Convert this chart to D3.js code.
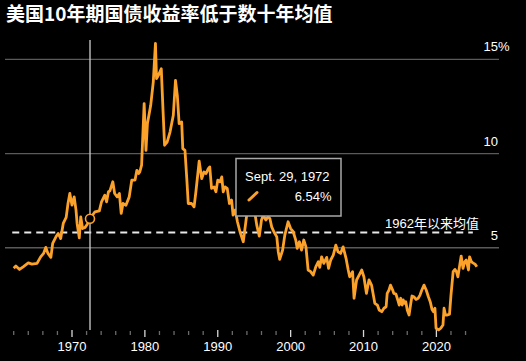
<!DOCTYPE html>
<html><head><meta charset="utf-8">
<script src="https://cdn.jsdelivr.net/npm/d3@7"></script>
<style>
html,body{margin:0;padding:0;background:#000;}
svg{display:block;}
text{font-family:"Liberation Sans",Arial,"Noto Sans CJK SC",sans-serif;}
</style></head>
<body>
<script>
const title = "美国10年期国债收益率低于数十年均值";
const meanLabel = "1962年以来均值";
const meanValue = 5.81;
const markerYear = 1972.47;
const markerValue = 6.54;
const markerDate = "Sept. 29, 1972";
const markerText = "6.54%";
const yTicks = [5, 10, 15];
const xMajorTicks = [1970, 1980, 1990, 2000, 2010, 2020];
const xMinorTicks = [1962,1964,1966,1968,1972,1974,1976,1978,1982,1984,1986,1988,1992,1994,1996,1998,2002,2004,2006,2008,2012,2014,2016,2018,2022,2024];

const years = [1962.0,1962.3,1962.8,1963.3,1964.0,1964.5,1965.2,1965.7,1966.1,1966.4,1966.7,1967.1,1967.35,1967.8,1968.1,1968.45,1968.8,1969.2,1969.45,1969.7,1970.0,1970.3,1970.55,1970.7,1971.0,1971.2,1971.45,1971.8,1972.1,1972.47,1973.15,1973.75,1974.05,1974.5,1974.75,1975.0,1975.2,1975.6,1975.85,1976.2,1976.5,1976.75,1977.0,1977.4,1977.85,1978.2,1978.65,1978.9,1979.15,1979.3,1979.55,1979.9,1980.15,1980.35,1980.8,1981.15,1981.45,1981.6,1981.85,1982.05,1982.25,1982.5,1982.7,1983.05,1983.45,1983.9,1984.2,1984.45,1984.7,1985.05,1985.2,1985.5,1985.75,1985.95,1986.4,1986.75,1987.0,1987.45,1987.8,1988.1,1988.4,1988.7,1988.9,1989.15,1989.5,1989.75,1990.0,1990.3,1990.55,1990.75,1991.0,1991.3,1991.6,1991.9,1992.1,1992.4,1992.7,1993.05,1993.5,1993.85,1994.2,1994.5,1994.7,1994.9,1995.1,1995.35,1995.7,1996.0,1996.25,1996.6,1996.9,1997.15,1997.4,1997.7,1998.1,1998.3,1998.5,1998.9,1999.2,1999.65,2000.0,2000.35,2000.7,2000.9,2001.2,2001.5,2001.8,2002.1,2002.4,2002.75,2003.1,2003.45,2003.8,2004.0,2004.25,2004.55,2004.95,2005.2,2005.5,2005.85,2006.2,2006.5,2006.85,2007.2,2007.6,2007.9,2008.1,2008.5,2008.7,2009.05,2009.4,2009.75,2010.05,2010.4,2010.75,2011.1,2011.55,2011.9,2012.15,2012.5,2012.8,2013.1,2013.25,2013.5,2013.7,2014.0,2014.15,2014.45,2014.7,2014.9,2015.1,2015.3,2015.45,2015.65,2015.8,2016.0,2016.25,2016.45,2016.65,2016.9,2017.2,2017.5,2017.75,2018.0,2018.3,2018.6,2018.9,2019.15,2019.4,2019.6,2019.8,2019.95,2020.3,2020.6,2020.9,2021.05,2021.25,2021.5,2021.8,2022.0,2022.3,2022.55,2022.75,2022.95,2023.2,2023.4,2023.65,2023.9,2024.1,2024.4,2024.55,2024.8,2025.0,2025.3,2025.55];
const yields = [3.91,4.03,3.85,3.99,4.20,4.13,4.17,4.52,4.70,5.02,4.70,4.49,5.23,5.58,5.76,5.49,6.29,6.61,7.35,7.88,7.26,7.70,7.00,6.29,5.53,6.64,6.02,6.08,6.25,6.54,6.91,6.96,7.44,7.79,7.44,7.97,8.02,8.50,7.88,7.70,7.88,6.82,7.35,7.26,7.70,8.59,8.59,9.11,8.94,9.02,9.38,12.65,10.17,11.59,12.56,13.79,15.85,13.97,14.15,14.32,14.50,12.20,10.44,10.61,11.14,12.03,13.88,13.09,11.59,11.67,10.26,10.17,8.67,7.35,7.35,7.17,7.97,9.59,8.67,9.02,8.94,9.20,9.29,8.15,8.23,7.97,8.59,8.50,8.76,7.97,8.23,8.15,7.35,7.53,6.73,7.00,6.38,5.85,5.32,6.36,7.44,8.05,8.15,7.50,6.82,6.20,5.62,6.47,6.73,6.47,6.64,6.55,6.11,5.85,5.58,4.79,4.38,4.88,5.67,6.38,6.02,5.85,5.41,4.97,5.32,4.88,5.41,5.05,3.82,3.73,3.55,3.99,4.26,3.96,4.52,4.17,4.49,3.91,4.35,4.61,5.14,4.79,4.70,5.05,4.44,3.82,3.46,3.73,2.32,3.29,3.55,3.82,3.46,2.58,3.29,3.02,2.05,1.96,1.70,1.61,1.79,1.87,2.58,2.76,3.02,2.76,2.58,2.54,2.23,1.96,2.32,1.96,2.23,2.05,2.14,1.70,1.43,1.96,2.44,2.40,2.26,2.32,2.49,2.76,3.02,2.76,2.40,2.14,1.73,1.61,1.79,0.73,0.64,0.73,0.90,1.79,1.43,1.43,1.48,2.49,3.73,3.85,3.73,3.46,4.08,4.56,3.91,4.26,4.35,3.82,4.52,4.26,4.20,4.13,3.99];

const W = 526, H = 361;
const orange = "#fca22a";
const svg = d3.select("body").append("svg").attr("width", W).attr("height", H);
svg.append("rect").attr("width", W).attr("height", H).attr("fill", "#000");

const x = d3.scaleLinear().domain([1962, 2020]).range([13.7, 436.4]);
const y = d3.scaleLinear().domain([0, 15]).range([342, 59.3]);

// title
svg.append("text").attr("x", 6).attr("y", 21)
  .attr("fill", "#fff").attr("font-size", 19).attr("font-weight", "bold")
  .style("font-family", "'Noto Sans CJK SC', sans-serif")
  .text(title);

// gridlines
const grid = svg.append("g");
grid.selectAll("line").data(yTicks).join("line")
  .attr("x1", 5).attr("x2", 499)
  .attr("y1", d => y(d)).attr("y2", d => y(d))
  .attr("stroke", "#5a5a5a").attr("stroke-width", 1.3);
grid.selectAll("text").data(yTicks).join("text")
  .attr("x", 498).attr("y", d => y(d) - 8)
  .attr("fill", "#fff").attr("font-size", 13).attr("text-anchor", "end")
  .text(d => d);
grid.append("text").attr("x", 498).attr("y", y(15) - 8)
  .attr("fill", "#fff").attr("font-size", 13).text("%");

// x axis ticks
const xa = svg.append("g");
xa.selectAll("line.minor").data(xMinorTicks).join("line").attr("class", "minor")
  .attr("x1", d => x(d)).attr("x2", d => x(d)).attr("y1", 331).attr("y2", 335)
  .attr("stroke", "#6a6a6a").attr("stroke-width", 1.3);
xa.selectAll("line.major").data(xMajorTicks).join("line").attr("class", "major")
  .attr("x1", d => x(d)).attr("x2", d => x(d)).attr("y1", 330).attr("y2", 337)
  .attr("stroke", "#d8d8d8").attr("stroke-width", 1.3);
xa.selectAll("text").data(xMajorTicks).join("text")
  .attr("x", d => x(d)).attr("y", 350.5).attr("text-anchor", "middle")
  .attr("fill", "#fff").attr("font-size", 13).text(d => d);

// mean dashed line
svg.append("line").attr("x1", x(1961.8)).attr("x2", x(2025.0))
  .attr("y1", y(meanValue)).attr("y2", y(meanValue))
  .attr("stroke", "#e8e8e8").attr("stroke-width", 2).attr("stroke-dasharray", "7,5");
svg.append("text").attr("x", 432).attr("y", y(meanValue) - 4.5).attr("text-anchor", "middle")
  .attr("fill", "#fff").attr("font-size", 13).text(meanLabel);

// vertical marker line
svg.append("line").attr("x1", x(markerYear)).attr("x2", x(markerYear))
  .attr("y1", 40).attr("y2", 330).attr("stroke", "#d0d0d0").attr("stroke-width", 1.3);

// series line
const data = years.map((yr, i) => [yr, yields[i]]);
svg.append("path").datum(data)
  .attr("d", d3.line().x(d => x(d[0])).y(d => y(d[1])))
  .attr("fill", "none").attr("stroke", orange).attr("stroke-width", 2.8)
  .attr("stroke-linejoin", "round");

// marker circle
svg.append("circle").attr("cx", x(markerYear)).attr("cy", y(markerValue)).attr("r", 4.5)
  .attr("fill", "#000").attr("stroke", orange).attr("stroke-width", 1.6);

// tooltip
const tt = svg.append("g");
tt.append("rect").attr("x", 236).attr("y", 158.5).attr("width", 105).attr("height", 57.5)
  .attr("fill", "#000").attr("stroke", "#a8a8a8").attr("stroke-width", 1.5);
tt.append("text").attr("x", 245).attr("y", 181).attr("fill", "#fff").attr("font-size", 13).text(markerDate);
tt.append("text").attr("x", 331.5).attr("y", 201).attr("text-anchor", "end")
  .attr("fill", "#fff").attr("font-size", 13).text(markerText);
tt.append("line").attr("x1", 249).attr("y1", 200).attr("x2", 257).attr("y2", 192.5)
  .attr("stroke", orange).attr("stroke-width", 3).attr("stroke-linecap", "round");
</script>
</body></html>
